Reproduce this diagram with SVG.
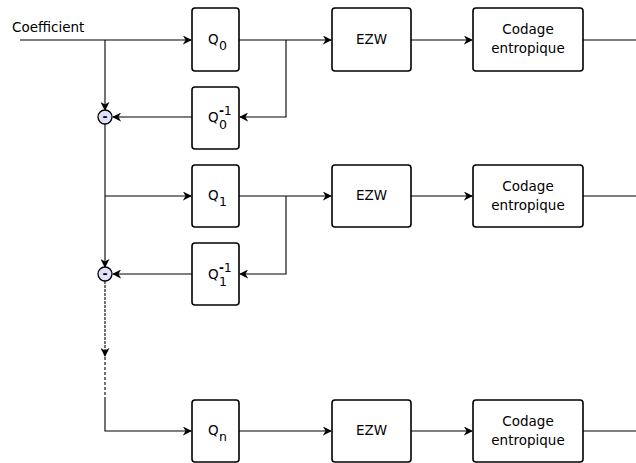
<svg xmlns="http://www.w3.org/2000/svg" width="636" height="463" viewBox="0 0 636 463">
<defs>
<style>
.box{fill:#fff;stroke:#000;stroke-width:1.6}
.t{font-family:"DejaVu Sans",sans-serif;font-size:13.5px;fill:#000}
.s{font-family:"DejaVu Sans",sans-serif;font-size:12.5px;fill:#000}
.sup{font-family:"DejaVu Sans",sans-serif;font-size:12px;fill:#000}
.c{text-anchor:middle}
.ln{fill:none;stroke:#000;stroke-width:1.1}
.minus{fill:#e0e0f8;stroke:#000;stroke-width:1.3}
.m{font-family:"DejaVu Sans",sans-serif;font-size:12px;font-weight:bold;fill:#000;text-anchor:middle}
</style>
<marker id="ah" viewBox="0 0 10 10" refX="9" refY="5" markerWidth="9" markerHeight="9" markerUnits="userSpaceOnUse" orient="auto">
<path d="M0,0 L10,5 L0,10 L3,5 Z" fill="#000"/>
</marker>
</defs>
<rect width="636" height="463" fill="#fff"/>
<text class="t" x="12" y="32">Coefficient</text>
<g id="connectors">
<path class="ln" d="M20,40 H191" marker-end="url(#ah)"/>
<path class="ln" d="M105,40 V110" marker-end="url(#ah)"/>
<path class="ln" d="M239,40 H331" marker-end="url(#ah)"/>
<path class="ln" d="M286,40 V117 H240" marker-end="url(#ah)"/>
<path class="ln" d="M192,117 H113" marker-end="url(#ah)"/>
<path class="ln" d="M411,40 H472" marker-end="url(#ah)"/>
<path class="ln" d="M583,40 H636"/>
<path class="ln" d="M105,124 V267" marker-end="url(#ah)"/>
<path class="ln" d="M105,196 H191" marker-end="url(#ah)"/>
<path class="ln" d="M239,196 H331" marker-end="url(#ah)"/>
<path class="ln" d="M286,196 V274 H240" marker-end="url(#ah)"/>
<path class="ln" d="M192,274 H113" marker-end="url(#ah)"/>
<path class="ln" d="M411,196 H472" marker-end="url(#ah)"/>
<path class="ln" d="M583,196 H636"/>
<path class="ln" d="M105,281 V356" stroke-dasharray="3,1" marker-end="url(#ah)"/>
<path class="ln" d="M105,357 V400" stroke="#555" stroke-dasharray="3,2"/>
<path class="ln" d="M105,400 V431 H191" marker-end="url(#ah)"/>
<path class="ln" d="M239,431 H331" marker-end="url(#ah)"/>
<path class="ln" d="M411,431 H472" marker-end="url(#ah)"/>
<path class="ln" d="M583,431 H636"/>
</g>
<g id="minus0"><circle class="minus" cx="105" cy="117" r="7"/><text class="m" x="105" y="121">-</text></g>
<g id="minus1"><circle class="minus" cx="105" cy="274" r="7"/><text class="m" x="105" y="278">-</text></g>
<g id="q0"><rect class="box" x="192" y="8" width="47" height="63" rx="3"/><text class="t" x="208" y="44">Q</text><text class="s" x="219" y="50">0</text></g>
<g id="q0inv"><rect class="box" x="192" y="87" width="47" height="62" rx="3"/><text class="t" x="208" y="122">Q</text><text class="s" x="219" y="129">0</text><text class="sup" x="219" y="115"><tspan font-weight="bold">-</tspan>1</text></g>
<g id="ezw0"><rect class="box" x="332" y="8" width="79" height="63" rx="3"/><text class="t c" x="371.5" y="44">EZW</text></g>
<g id="code0"><rect class="box" x="473" y="8" width="110" height="63" rx="3"/><text class="t c" x="528" y="34">Codage</text><text class="t c" x="528" y="53">entropique</text></g>
<g id="q1"><rect class="box" x="192" y="165" width="47" height="62" rx="3"/><text class="t" x="208" y="200">Q</text><text class="s" x="219" y="206">1</text></g>
<g id="q1inv"><rect class="box" x="192" y="243" width="47" height="62" rx="3"/><text class="t" x="208" y="279">Q</text><text class="s" x="219" y="286">1</text><text class="sup" x="219" y="272"><tspan font-weight="bold">-</tspan>1</text></g>
<g id="ezw1"><rect class="box" x="332" y="165" width="79" height="62" rx="3"/><text class="t c" x="371.5" y="200">EZW</text></g>
<g id="code1"><rect class="box" x="473" y="165" width="110" height="62" rx="3"/><text class="t c" x="528" y="191">Codage</text><text class="t c" x="528" y="210">entropique</text></g>
<g id="qn"><rect class="box" x="192" y="400" width="47" height="62" rx="3"/><text class="t" x="208" y="435">Q</text><text class="s" x="219" y="441">n</text></g>
<g id="ezwn"><rect class="box" x="332" y="400" width="79" height="62" rx="3"/><text class="t c" x="371.5" y="435">EZW</text></g>
<g id="coden"><rect class="box" x="473" y="400" width="110" height="62" rx="3"/><text class="t c" x="528" y="426">Codage</text><text class="t c" x="528" y="445">entropique</text></g>
</svg>
